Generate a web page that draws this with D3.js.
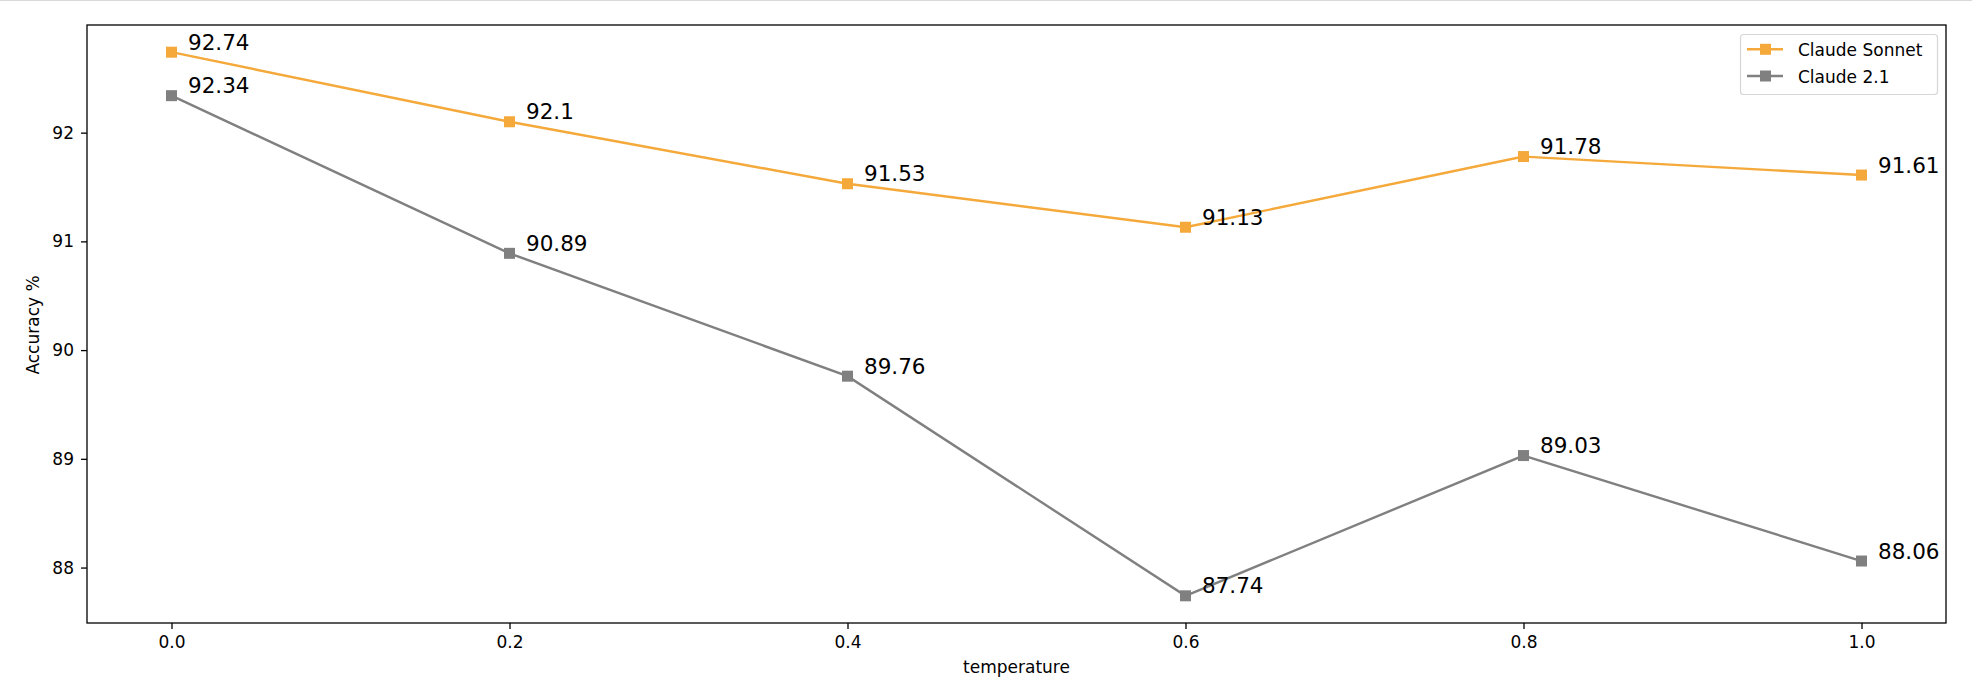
<!DOCTYPE html>
<html>
<head>
<meta charset="utf-8">
<script src="https://cdn.jsdelivr.net/npm/d3@7"></script>
<style>
  html, body { margin: 0; padding: 0; background: #fff; }
  svg { display: block; }
  text { font-family: "DejaVu Sans", sans-serif; fill: #000; }
</style>
</head>
<body>
<script>
const temperatures = [0.0, 0.2, 0.4, 0.6, 0.8, 1.0];
const sonnetValues = [92.74, 92.1, 91.53, 91.13, 91.78, 91.61];
const claude21Values = [92.34, 90.89, 89.76, 87.74, 89.03, 88.06];
const seriesNames = ["Claude Sonnet", "Claude 2.1"];
const seriesColors = ["#f4a93a", "#808080"];
const xTicks = [0.0, 0.2, 0.4, 0.6, 0.8, 1.0];
const yTicks = [88, 89, 90, 91, 92];
const xLabel = "temperature";
const yLabel = "Accuracy %";

const W = 1972, H = 694;
const plot = { left: 87, right: 1946, top: 25, bottom: 623 };
const tickFont = 17, annFont = 21.5;

const svg = d3.select("body").append("svg").attr("width", W).attr("height", H);

// top border line (screenshot edge)
svg.append("line").attr("x1", 0).attr("x2", W).attr("y1", 0.5).attr("y2", 0.5)
  .attr("stroke", "#d9d9d9").attr("stroke-width", 1);

const x = d3.scaleLinear().domain([-0.05, 1.05]).range([plot.left, plot.right]);
const y = d3.scaleLinear().domain([87.49, 92.99]).range([plot.bottom, plot.top]);

// axes
const xAxis = d3.axisBottom(x).tickValues(xTicks).tickFormat(d3.format(".1f")).tickSize(6).tickPadding(7);
const yAxis = d3.axisLeft(y).tickValues(yTicks).tickFormat(d3.format("d")).tickSize(6).tickPadding(7);

const gx = svg.append("g").attr("transform", `translate(0,${plot.bottom})`).call(xAxis);
const gy = svg.append("g").attr("transform", `translate(${plot.left},0)`).call(yAxis);
[gx, gy].forEach(g => {
  g.select(".domain").remove();
  g.selectAll(".tick line").attr("stroke", "#000").attr("stroke-width", 1.3);
  g.selectAll(".tick text").attr("font-size", tickFont).attr("font-family", "DejaVu Sans").attr("fill", "#1a1a1a");
});

// series
const series = [
  { name: seriesNames[0], color: seriesColors[0], values: sonnetValues },
  { name: seriesNames[1], color: seriesColors[1], values: claude21Values }
];

const line = d3.line().x((d, i) => x(temperatures[i])).y(d => y(d));
const msize = 11;

series.forEach(s => {
  svg.append("path").datum(s.values).attr("d", line)
    .attr("fill", "none").attr("stroke", s.color).attr("stroke-width", 2.4);
  svg.selectAll(null).data(s.values).enter().append("rect")
    .attr("x", (d, i) => x(temperatures[i]) - msize / 2)
    .attr("y", d => y(d) - msize / 2)
    .attr("width", msize).attr("height", msize)
    .attr("fill", s.color);
});

series.forEach(s => {
  svg.selectAll(null).data(s.values).enter().append("text")
    .attr("x", (d, i) => x(temperatures[i]) + 16.5)
    .attr("y", d => y(d) - 2.5)
    .attr("font-size", annFont)
    .attr("fill", "#111")
    .text(d => String(d));
});

// spines
svg.append("rect").attr("x", plot.left).attr("y", plot.top)
  .attr("width", plot.right - plot.left).attr("height", plot.bottom - plot.top)
  .attr("fill", "none").attr("stroke", "#000").attr("stroke-width", 1.3);

// axis labels
svg.append("text").attr("x", (plot.left + plot.right) / 2).attr("y", 673)
  .attr("text-anchor", "middle").attr("font-size", tickFont).attr("fill", "#1a1a1a").text(xLabel);
svg.append("text").attr("transform", `translate(38.5,${(plot.top + plot.bottom) / 2 + 1}) rotate(-90)`)
  .attr("text-anchor", "middle").attr("font-size", tickFont).attr("fill", "#1a1a1a").text(yLabel);

// legend
const lg = svg.append("g");
lg.append("rect").attr("x", 1740.5).attr("y", 34.5).attr("width", 197).attr("height", 60)
  .attr("rx", 3).attr("fill", "#fff").attr("fill-opacity", 0.8)
  .attr("stroke", "#d6d6d6").attr("stroke-width", 1.2);
const rowY = [49.3, 76];
series.forEach((s, i) => {
  lg.append("line").attr("x1", 1747).attr("x2", 1783).attr("y1", rowY[i]).attr("y2", rowY[i])
    .attr("stroke", s.color).attr("stroke-width", 2.4);
  lg.append("rect").attr("x", 1765.5 - msize / 2).attr("y", rowY[i] - msize / 2)
    .attr("width", msize).attr("height", msize).attr("fill", s.color);
  lg.append("text").attr("x", 1798).attr("y", rowY[i] + 7)
    .attr("font-size", tickFont).attr("fill", "#1a1a1a").text(s.name);
});
</script>
</body>
</html>
